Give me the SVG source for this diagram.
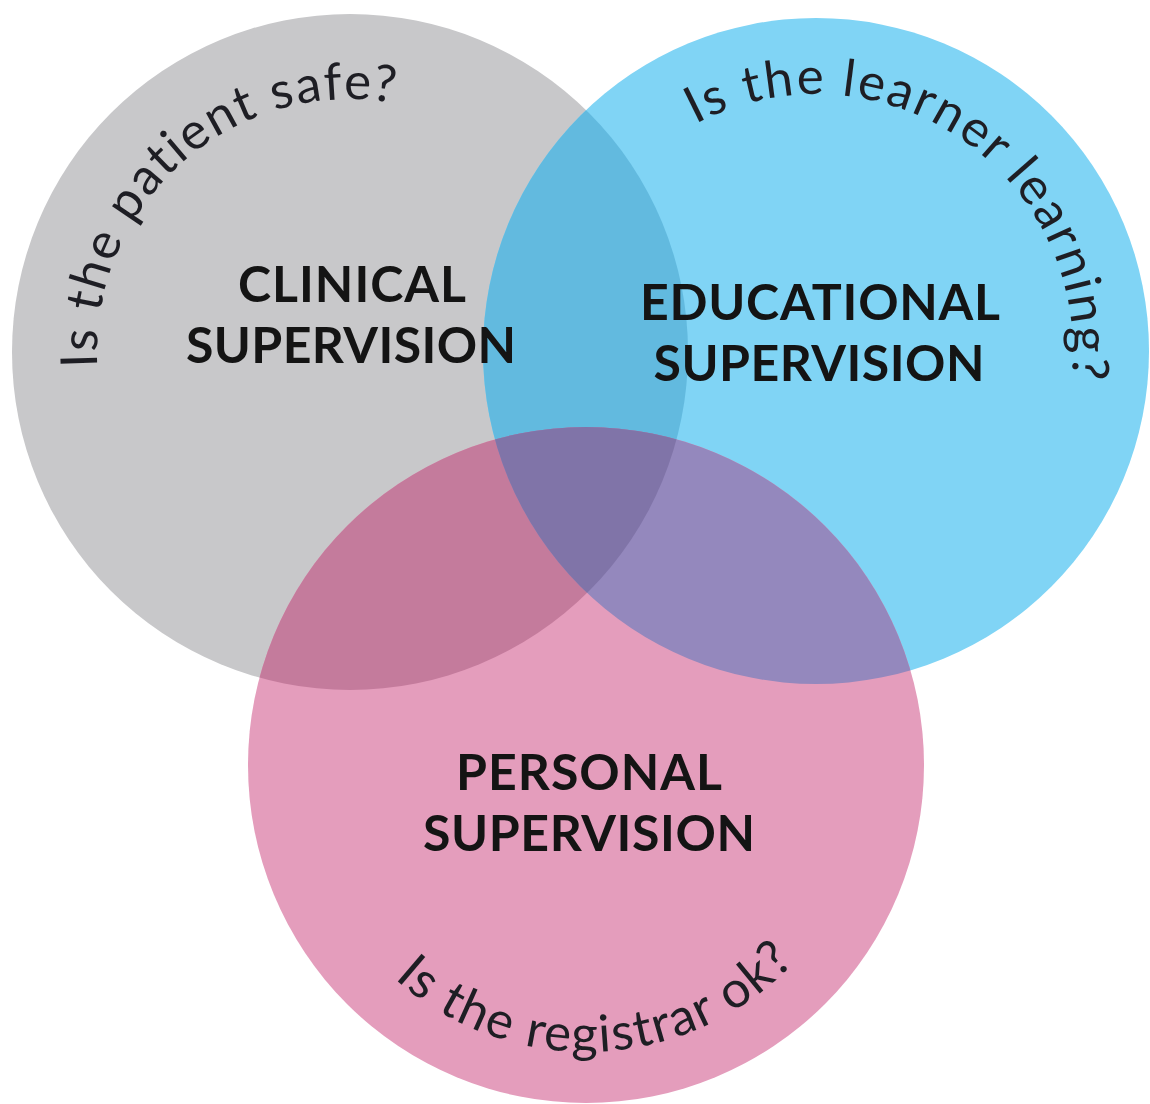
<svg xmlns="http://www.w3.org/2000/svg" width="1150" height="1104" viewBox="0 0 1150 1104">
<style>
.lbl{font-family:Lato,"Noto Sans","Liberation Sans",sans-serif;font-weight:700;font-size:50px;fill:#141414;text-anchor:middle}
.q{font-family:Lato,"Noto Sans","Liberation Sans",sans-serif;font-weight:400;font-size:51px;fill:#1e1e24}
</style>
<defs>
<clipPath id="cg"><circle cx="350" cy="352" r="338"/></clipPath>
<clipPath id="cb"><circle cx="816" cy="351" r="333"/></clipPath>
<path id="pg" d="M130.9,478.5 A253,253 0 0 1 502.3,150.0"/>
<path id="pb" d="M632.1,171.5 A257,257 0 0 1 1050.2,456.8"/>
<path id="pp" d="M305.8,827.1 A287,287 0 0 0 870.5,802.5"/>
</defs>
<rect width="1150" height="1104" fill="#ffffff"/>
<g id="node-clinical-circle"><circle cx="350" cy="352" r="338" fill="#c8c8ca"/></g>
<g id="node-educational-circle"><circle cx="816" cy="351" r="333" fill="#80d4f5"/></g>
<g id="node-personal-circle"><circle cx="586" cy="765" r="338" fill="#e49dbc"/></g>
<g id="overlaps">
<circle cx="816" cy="351" r="333" fill="#62badf" clip-path="url(#cg)"/>
<circle cx="586" cy="765" r="338" fill="#c47b9c" clip-path="url(#cg)"/>
<circle cx="586" cy="765" r="338" fill="#9488bd" clip-path="url(#cb)"/>
<g clip-path="url(#cg)"><circle cx="586" cy="765" r="338" fill="#8074a8" clip-path="url(#cb)"/></g>
</g>
<g id="node-clinical">
<text class="lbl" x="352" y="302" textLength="228">CLINICAL</text>
<text class="lbl" x="351" y="363" textLength="330">SUPERVISION</text>
<text class="q" letter-spacing="2"><textPath href="#pg" startOffset="50%" text-anchor="middle">Is the patient safe?</textPath></text>
</g>
<g id="node-educational">
<text class="lbl" x="820" y="320" textLength="360">EDUCATIONAL</text>
<text class="lbl" x="819" y="381" textLength="331">SUPERVISION</text>
<text class="q" letter-spacing="2.2"><textPath href="#pb" startOffset="50%" text-anchor="middle">Is the learner learning?</textPath></text>
</g>
<g id="node-personal">
<text class="lbl" x="589" y="790" textLength="266">PERSONAL</text>
<text class="lbl" x="589" y="851" textLength="332">SUPERVISION</text>
<text class="q" letter-spacing="1.7"><textPath href="#pp" startOffset="50%" text-anchor="middle">Is the registrar ok?</textPath></text>
</g>
</svg>
